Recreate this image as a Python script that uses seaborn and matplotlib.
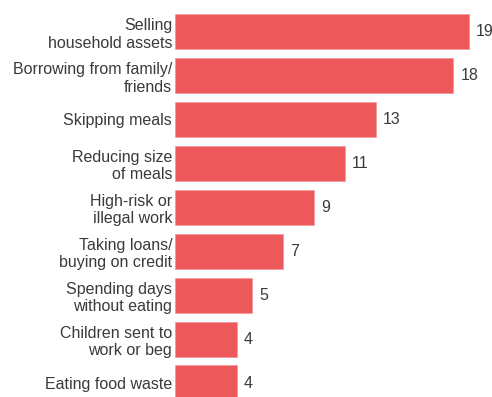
import numpy as np
import matplotlib.pyplot as plt
import pandas as pd
import seaborn as sns

strategies = ["Selling\nhousehold assets", "Borrowing from family/\nfriends", "Skipping meals",
              "Reducing size\nof meals", "High-risk or\nillegal work", "Taking loans/\nbuying on credit",
              "Spending days\nwithout eating", "Children sent to\nwork or beg", "Eating food waste"]
values = [19, 18, 13, 11, 9, 7, 5, 4, 4]

df = pd.DataFrame({"strategy": strategies, "value": values})

sns.set_style("white")
plt.rcParams['font.family'] = ['Liberation Sans', 'DejaVu Sans']

fig = plt.figure(figsize=(4.92, 3.97), dpi=100)
# axes placed in pixel terms so the bars land where the reference has them
ax = fig.add_axes([175/492, (397-405)/397, (484.4-175)/492, (405-9.5)/397])
sns.barplot(data=df, x="value", y="strategy", color="#ED585A", width=0.8,
            edgecolor="#F39A9A", linewidth=0.6, saturation=1, ax=ax)
ax.set_xlim(0, 20)
ax.set_ylim(8.5, -0.5)
ax.set_xlabel("")
ax.set_ylabel("")
ax.set_xticks([])
sns.despine(left=True, bottom=True)
ax.tick_params(axis="y", length=0, pad=2, labelsize=11.5, labelcolor="#3a3a3a")
for lbl in ax.get_yticklabels():
    lbl.set_linespacing(1.22)

for i, v in enumerate(values):
    ax.text(v + 0.45, i, str(v), va="center", ha="left", fontsize=11.5, color="#3a3a3a")

fig.savefig("out.png", dpi=100)
